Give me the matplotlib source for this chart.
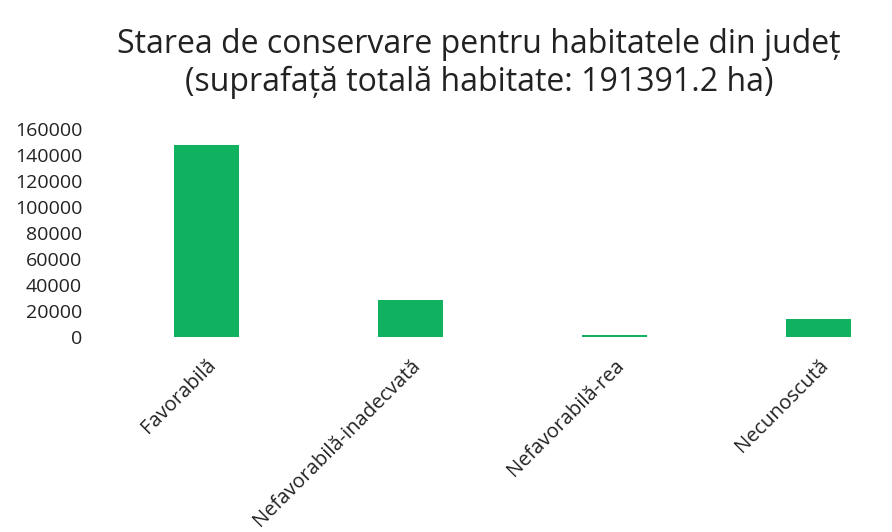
import matplotlib.pyplot as plt
import numpy as np

plt.rcParams['font.family'] = ['Open Sans', 'DejaVu Sans']

# Data
categories = ["Favorabilă", "Nefavorabilă-inadecvată", "Nefavorabilă-rea", "Necunoscută"]
surface_ha = [147500, 28500, 1400, 13991.2]
yticks = [0, 20000, 40000, 60000, 80000, 100000, 120000, 140000, 160000]

fig = plt.figure(figsize=(8.92, 5.32), dpi=100)
ax = fig.add_axes([0.117, 0.366, 0.915, 0.392])

x = np.arange(len(categories))
ax.bar(x, surface_ha, width=0.32, color="#10B15F")

ax.set_xlim(-0.5, len(categories) - 0.5)
ax.set_ylim(0, 160000)
ax.set_yticks(yticks)
ax.set_yticklabels([str(t) for t in yticks], fontsize=14, color="#222222")
ax.set_xticks(x)
ax.set_xticklabels(categories, rotation=45, ha="right", rotation_mode="anchor",
                   fontsize=14.5, color="#222222")
ax.tick_params(length=0, axis="y", pad=16)
ax.tick_params(length=0, axis="x", pad=13)
for s in ax.spines.values():
    s.set_visible(False)

fig.suptitle("Starea de conservare pentru habitatele din județ\n(suprafață totală habitate: 191391.2 ha)",
             x=0.537, y=0.948, fontsize=23, color="#222222", linespacing=1.2)

fig.savefig("out.png", dpi=100, facecolor="white")
